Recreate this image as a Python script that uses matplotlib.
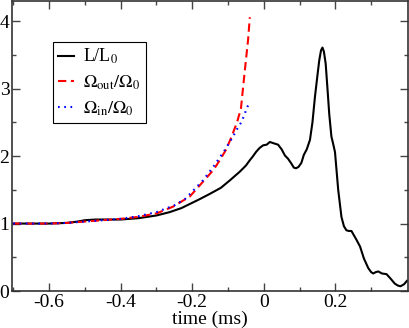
import matplotlib
matplotlib.use("Agg")
import matplotlib.pyplot as plt
from matplotlib.ticker import MultipleLocator, FixedLocator

plt.rcParams['font.family'] = ['Liberation Serif', 'DejaVu Serif']
plt.rcParams['mathtext.fontset'] = 'stix'
plt.rcParams['axes.unicode_minus'] = False

# L/L0
t_L = [-0.70, -0.60, -0.55, -0.52, -0.50, -0.47, -0.40, -0.35, -0.30, -0.263, -0.23, -0.207,
       -0.18, -0.151, -0.12, -0.095, -0.067, -0.050, -0.039, -0.030, -0.022, -0.012, -0.002,
       0.008, 0.017, 0.028, 0.040, 0.050, 0.059, 0.068, 0.077, 0.084, 0.090, 0.097, 0.105,
       0.112, 0.120, 0.129, 0.136, 0.143, 0.150, 0.155, 0.160, 0.164, 0.168, 0.173, 0.178,
       0.183, 0.189, 0.194, 0.199, 0.208, 0.217, 0.224, 0.231, 0.238, 0.245, 0.259, 0.269,
       0.280, 0.292, 0.300, 0.306, 0.313, 0.320, 0.330, 0.343, 0.355, 0.366, 0.375, 0.382,
       0.392, 0.400]
L_L0 = [1.00, 1.00, 1.01, 1.03, 1.05, 1.06, 1.06, 1.08, 1.12, 1.17, 1.23, 1.29,
        1.36, 1.44, 1.53, 1.64, 1.77, 1.86, 1.94, 2.00, 2.06, 2.12, 2.16,
        2.17, 2.21, 2.19, 2.17, 2.10, 2.01, 1.96, 1.89, 1.83, 1.82, 1.84, 1.90,
        2.02, 2.10, 2.24, 2.50, 2.88, 3.20, 3.42, 3.57, 3.61, 3.55, 3.37, 3.00,
        2.62, 2.29, 2.18, 2.06, 1.50, 1.10, 0.96, 0.90, 0.89, 0.89, 0.76, 0.66,
        0.48, 0.34, 0.28, 0.26, 0.28, 0.29, 0.26, 0.25, 0.18, 0.11, 0.08, 0.07,
        0.10, 0.15]

# Omega_out/Omega0
t_out = [-0.70, -0.60, -0.55, -0.50, -0.45, -0.40, -0.35, -0.30, -0.254, -0.207, -0.17,
         -0.14, -0.123, -0.105, -0.09, -0.075, -0.064, -0.0596, -0.053, -0.044, -0.039]
W_out = [1.00, 1.00, 1.01, 1.03, 1.05, 1.07, 1.10, 1.15, 1.25, 1.40, 1.62,
         1.80, 1.94, 2.10, 2.29, 2.50, 2.70, 2.93, 3.27, 3.72, 4.06]

# Omega_in/Omega0
t_in = [-0.70, -0.60, -0.55, -0.50, -0.45, -0.40, -0.35, -0.30, -0.25, -0.221, -0.17,
        -0.14, -0.109, -0.086, -0.076, -0.062, -0.053, -0.048, -0.042]
W_in = [1.00, 1.00, 1.01, 1.03, 1.05, 1.07, 1.11, 1.17, 1.27, 1.36, 1.64,
        1.85, 2.09, 2.29, 2.39, 2.51, 2.63, 2.71, 2.77]

x_ticks = [-0.6, -0.4, -0.2, 0.0, 0.2]
x_labels = ['-0.6', '-0.4', '-0.2', '0', '0.2']
y_ticks = [0, 1, 2, 3, 4]

fig = plt.figure(figsize=(4.09, 3.28), dpi=100)
ax = fig.add_axes([0.030, 0.1128, 0.9675, 0.884])

ax.plot(t_L, L_L0, color='black', lw=1.5, label=r'L/L$_0$')
ax.plot(t_out, W_out, color='#ff0000', lw=1.5, dashes=(4, 2.2), label=r'$\Omega_{\rm out}/\Omega_0$')
ax.plot(t_in, W_in, color='#0000ff', lw=1.5, dashes=(0.8, 2.2), label=r'$\Omega_{\rm in}/\Omega_0$')

ax.set_xlim(-0.703, 0.403)
ax.set_ylim(0, 4.3)
ax.set_xticks(x_ticks)
ax.set_xticklabels(x_labels)
ax.xaxis.set_minor_locator(FixedLocator([-0.7, -0.5, -0.3, -0.1, 0.1, 0.3]))
ax.set_yticks(y_ticks)
ax.yaxis.set_minor_locator(MultipleLocator(0.5))
ax.tick_params(which='both', direction='in', top=True, right=True, labelsize=14,
               color='#444444', width=1.0, pad=2)
ax.tick_params(which='major', length=6)
ax.tick_params(which='minor', length=3)
for s in ax.spines.values():
    s.set_linewidth(1.2)
    s.set_color('#333333')

ax.set_xlabel('time (ms)', fontsize=14, labelpad=0)

leg = ax.legend(loc='upper left', bbox_to_anchor=(0.102, 0.86), fontsize=13,
                frameon=True, fancybox=False, handlelength=0.9, handletextpad=0.5,
                borderpad=0.3, labelspacing=0.4, borderaxespad=0)
leg.get_frame().set_edgecolor('black')
leg.get_frame().set_linewidth(0.8)
leg.get_frame().set_alpha(1)

fig.savefig('out.png', dpi=100)
